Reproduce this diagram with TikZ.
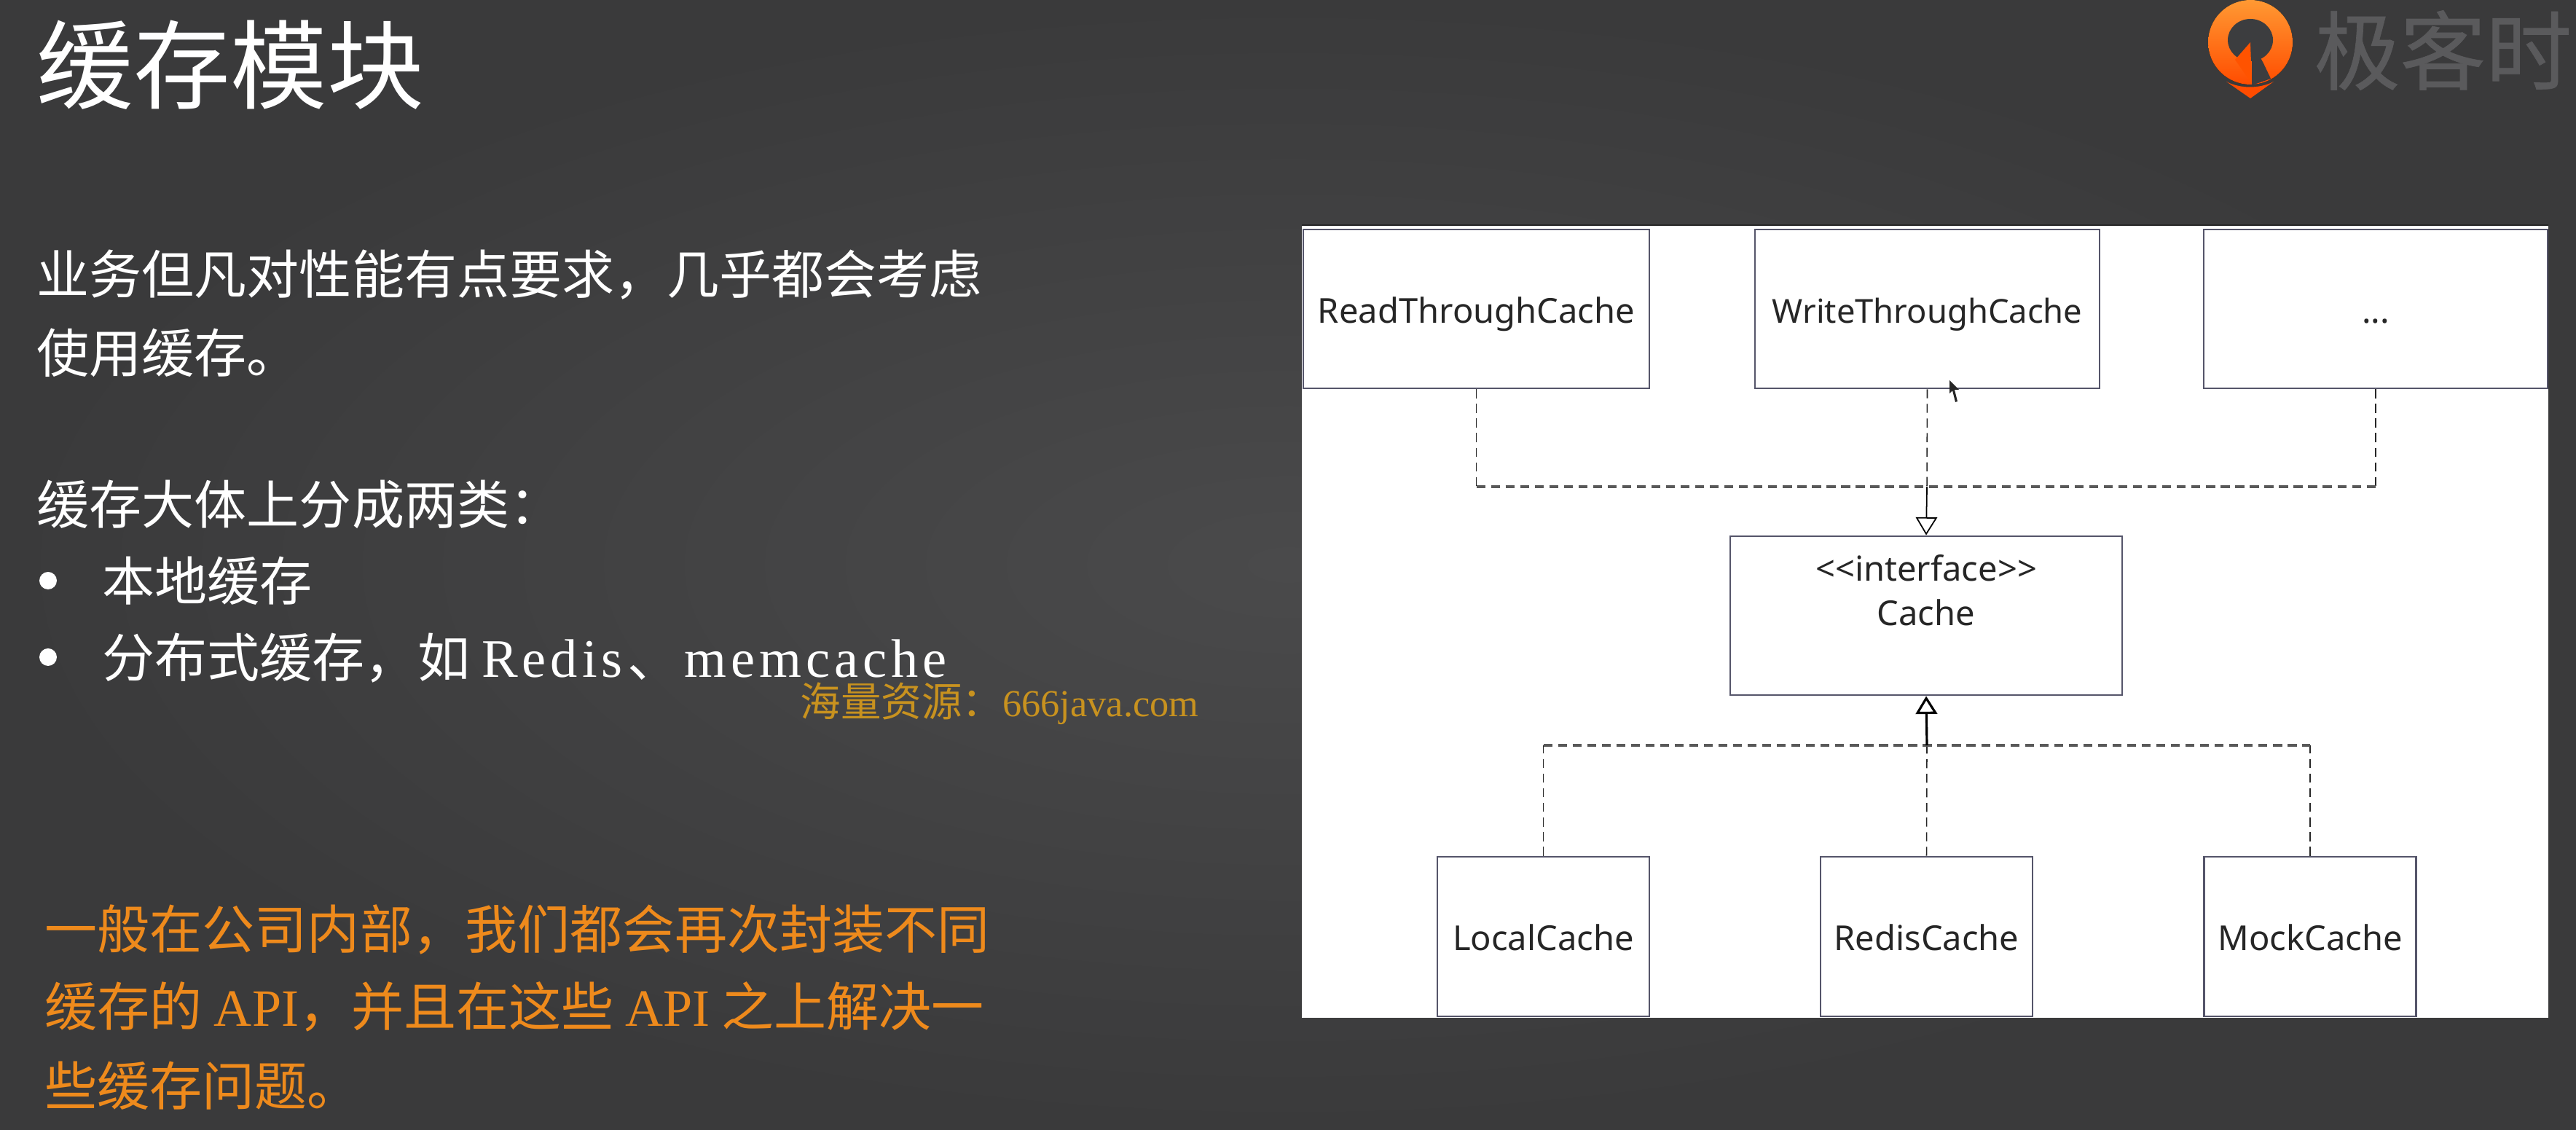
\documentclass[tikz,border=0pt]{standalone}
\usepackage{fontspec}
\usetikzlibrary{arrows.meta}
\setmainfont{Noto Sans CJK SC}
\newfontfamily\latfont[LetterSpace=8]{Liberation Serif}
\newfontfamily\markfont{Liberation Serif}
\newfontfamily\umlfont{Noto Sans}
\newfontfamily\logofont[FakeBold=0.6]{Noto Sans CJK SC}
\definecolor{slidedark}{HTML}{3A3A3B}
\definecolor{slidelight}{HTML}{4A4A4B}
\definecolor{logoback}{HTML}{3C3D3F}
\definecolor{boxline}{HTML}{55556A}
\definecolor{noteorange}{HTML}{EE8A1C}
\definecolor{markgold}{HTML}{C8921F}
\definecolor{logotext}{HTML}{5A5A5C}
\tikzset{
	umlbox/.style={draw=boxline, line width=0.8pt, fill=white, inner sep=0pt, font=\umlfont\fontsize{13.4}{17}\selectfont, text=black!85, text height=13pt, text depth=2pt},
	dashdown/.style={line width=0.45pt, color=black!85, dash pattern=on 3.5pt off 2.2pt},
	dashacross/.style={line width=0.9pt, color=black!65, dash pattern=on 3.5pt off 2.2pt},
	solidup/.style={line width=0.5pt, color=black, -{Triangle[open, fill=white, length=7pt, width=8.4pt]}},
	bodyline/.style={anchor=base west, inner sep=0pt, text=white, font=\fontsize{20.5}{24}\selectfont},
	noteline/.style={anchor=base west, inner sep=0pt, text=noteorange, font=\fontsize{20.5}{24}\selectfont},
	dotmark/.style={circle, fill=white, inner sep=0pt, minimum size=0.24cm}
}
\begin{document}
\begin{tikzpicture}
	%%%%% START %%%%%
	
	\useasboundingbox (0, 0) rectangle (35.36, 15.5);
	\shade[inner color=slidelight, outer color=slidedark] (0, 0) rectangle (35.36, 15.5);
	
	% left column
	\node[anchor=base west, inner sep=0pt, text=white, font=\fontsize{37.8}{44}\selectfont] (title) at (0.5, 14.1) {缓存模块};
	\node[bodyline] (intro1) at (0.5, 11.46) {业务但凡对性能有点要求，几乎都会考虑};
	\node[bodyline] (intro2) at (0.5, 10.38) {使用缓存。};
	\node[bodyline] (kinds) at (0.5, 8.3) {缓存大体上分成两类：};
	\node[dotmark] (dot1) at (0.66, 7.53) {};
	\node[bodyline] (kind1) at (1.4, 7.25) {本地缓存};
	\node[dotmark] (dot2) at (0.66, 6.48) {};
	\node[bodyline] (kind2) at (1.4, 6.2) {分布式缓存，如 {\latfont\fontsize{21.2}{24}\selectfont Redis}\hspace{2pt}、\hspace{1.5pt}{\latfont\fontsize{21.2}{24}\selectfont memcache}};
	\node[anchor=base west, inner sep=0pt, text=markgold, font=\fontsize{15.8}{18}\selectfont] (mark) at (10.98, 5.66) {海量资源：{\markfont\fontsize{14.9}{18}\selectfont 666java.com}};
	\node[noteline] (note1) at (0.61, 2.47) {一般在公司内部，我们都会再次封装不同};
	\node[noteline] (note2) at (0.61, 1.41) {缓存的 {\markfont\fontsize{20.5}{24}\selectfont API}，并且在这些 {\markfont\fontsize{20.5}{24}\selectfont API} 之上解决一};
	\node[noteline] (note3) at (0.61, 0.33) {些缓存问题。};
	
	% logo
	\fill[top color=orange!80!white, bottom color=orange!60!red] (30.89, 14.92) ellipse (0.58 and 0.58);
	\fill[color=logoback] (30.89, 14.95) ellipse (0.31 and 0.29);
	\fill[color=logoback] (30.91, 14.93) -- (30.91, 14.33) -- (31.17, 14.42) -- (31.07, 14.63) -- cycle;
	\fill[color=orange!65!red] (30.89, 14.92) -- (30.91, 14.35) -- (30.68, 14.68) -- cycle;
	\fill[color=orange!60!red] (30.56, 14.38) .. controls (30.75, 14.28) and (31.02, 14.28) .. (31.21, 14.38) -- (30.89, 14.15) -- cycle;
	\node[anchor=west, inner sep=0pt, text=logotext, font=\logofont\fontsize{33.5}{38}\selectfont] (logoname) at (31.76, 14.81) {极客时间};
	
	% diagram
	\fill[color=white] (17.87, 1.53) rectangle (34.98, 12.41);
	\draw[line width=0.8pt, color=black!85] (17.87, 12.41) -- (34.98, 12.41);
	
	\node[umlbox, minimum width=4.75cm, minimum height=2.18cm] (readcache) at (20.265, 11.26) {ReadThroughCache};
	\node[umlbox, minimum width=4.73cm, minimum height=2.18cm, font=\umlfont\fontsize{12.9}{17}\selectfont] (writecache) at (26.455, 11.26) {WriteThroughCache};
	\node[umlbox, minimum width=4.72cm, minimum height=2.18cm] (morecache) at (32.61, 11.26) {...};
	\node[umlbox, minimum width=5.38cm, minimum height=2.18cm, align=center, text height=, text depth=] (cache) at (26.44, 7.05) {<{}<interface>{}>\\[0.4pt]Cache\\[3pt]~};
	\node[umlbox, minimum width=2.91cm, minimum height=2.19cm] (localcache) at (21.185, 2.645) {LocalCache};
	\node[umlbox, minimum width=2.91cm, minimum height=2.19cm] (rediscache) at (26.445, 2.645) {RedisCache};
	\node[umlbox, minimum width=2.91cm, minimum height=2.19cm] (mockcache) at (31.71, 2.645) {MockCache};
	
	\coordinate (topjoin) at (26.45, 8.82);
	\coordinate (readturn) at (readcache.south |- topjoin);
	\coordinate (moreturn) at (morecache.south |- topjoin);
	\draw[dashdown] (readcache.south) -- (readturn);
	\draw[dashdown] (writecache.south) -- (topjoin);
	\draw[dashdown] (morecache.south) -- (moreturn);
	\draw[dashacross] (readturn) -- (moreturn);
	\draw[solidup] (topjoin) -- (cache.north);
	
	\coordinate (lowjoin) at (26.45, 5.27);
	\coordinate (localturn) at (localcache.north |- lowjoin);
	\coordinate (mockturn) at (mockcache.north |- lowjoin);
	\draw[dashdown] (localcache.north) -- (localturn);
	\draw[dashdown] (rediscache.north) -- (lowjoin);
	\draw[dashdown] (mockcache.north) -- (mockturn);
	\draw[dashacross] (localturn) -- (mockturn);
	\draw[solidup, line width=0.9pt] (lowjoin) -- (cache.south);
	
	% mouse pointer
	\fill[color=black!85] (26.76, 10.28) -- (26.76, 10.1) -- (26.8, 10.14) -- (26.84, 9.98) -- (26.87, 9.99) -- (26.83, 10.15) -- (26.89, 10.15) -- cycle;
	
	%%%%% END %%%%%
\end{tikzpicture}
\end{document}
